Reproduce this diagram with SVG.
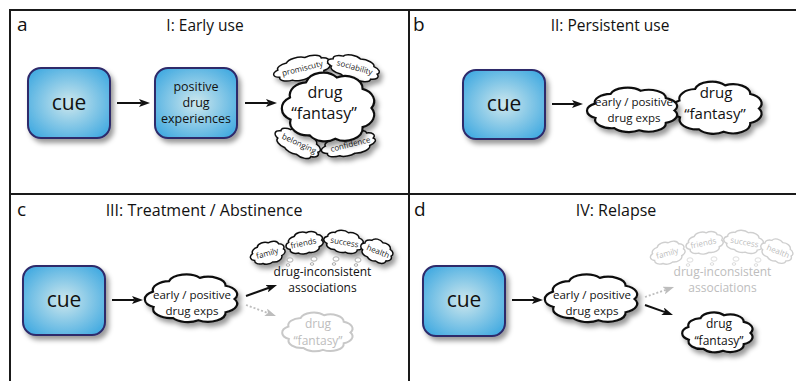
<svg xmlns="http://www.w3.org/2000/svg" width="796" height="381" viewBox="0 0 796 381">
<defs>
<style>
text{font-family:"Open Sans","Liberation Sans",sans-serif;fill:#111;text-anchor:middle}
.lbl{font-size:19px;text-anchor:start}
.ttl{font-size:15.5px}
.cue{font-size:21px}
.sm{font-size:8px;fill:#222}
.gt{fill:#bdbdbd}
.di{font-size:12px}
.cl{fill:#fff;stroke:#111;stroke-width:2.2}
.cs{fill:#fff;stroke:#111;stroke-width:1.5}
.cg{fill:#fff;stroke:#c8c8c8;stroke-width:2}
.csg{fill:#fff;stroke:#cfcfcf;stroke-width:1.4}
.box{fill:url(#boxg);stroke:#2d2a6b;stroke-width:2}
.bub{fill:#fff;stroke:#999;stroke-width:0.8}
.bubg{fill:#fff;stroke:#d4d4d4;stroke-width:0.8}
.frame{stroke:#1a1a1a;stroke-width:2;fill:none}
.ar{stroke:#111;stroke-width:2;fill:none;marker-end:url(#ah)}
.ag{stroke:#bdbdbd;stroke-width:1.8;fill:none;stroke-dasharray:2 2;marker-end:url(#ahg)}
</style>
<radialGradient id="boxg" cx="50%" cy="50%" r="62%">
<stop offset="0" stop-color="#cde7ed"/>
<stop offset="1" stop-color="#44abe1"/>
</radialGradient>
<filter id="sh" x="-20%" y="-20%" width="150%" height="160%">
<feDropShadow dx="3" dy="4" stdDeviation="2.5" flood-color="#000" flood-opacity="0.4"/>
</filter>
<path id="cloud" vector-effect="non-scaling-stroke" d="M1,0 A.42,.42 0 0 1 .788,.616 A.42,.42 0 0 1 .139,.99 A.42,.42 0 0 1 -.469,.883 A.42,.42 0 0 1 -.927,.375 A.42,.42 0 0 1 -.94,-.342 A.42,.42 0 0 1 -.559,-.829 A.42,.42 0 0 1 .174,-.985 A.42,.42 0 0 1 .788,-.616 A.42,.42 0 0 1 1,0 Z"/>
<marker id="ah" markerUnits="userSpaceOnUse" markerWidth="11" markerHeight="8" viewBox="0 0 11 8" refX="2.5" refY="4" orient="auto"><path d="M0,0 L11,4 L0,8 L2.5,4 Z" fill="#111"/></marker>
<marker id="ahg" markerUnits="userSpaceOnUse" markerWidth="11" markerHeight="8" viewBox="0 0 11 8" refX="2.5" refY="4" orient="auto"><path d="M0,0 L11,4 L0,8 L2.5,4 Z" fill="#bdbdbd"/></marker>
</defs>

<g id="frame">
<line class="frame" x1="9" y1="10" x2="796" y2="10"/>
<line class="frame" x1="10" y1="10" x2="10" y2="381"/>
<line class="frame" x1="409" y1="10" x2="409" y2="381"/>
<line class="frame" x1="10" y1="194" x2="796" y2="194"/>
</g>

<g id="labels">
<text class="lbl" x="17" y="31">a</text>
<text class="ttl" x="205" y="31">I: Early use</text>
<text class="lbl" x="413" y="31">b</text>
<text class="ttl" x="610" y="31">II: Persistent use</text>
<text class="lbl" x="17" y="216">c</text>
<text class="ttl" x="204" y="216" style="font-size:16px">III: Treatment / Abstinence</text>
<text class="lbl" x="414" y="216">d</text>
<text class="ttl" x="616" y="216" style="font-size:16px">IV: Relapse</text>
</g>

<!-- Panel a -->
<g id="a-cue">
<rect class="box" x="28" y="68" width="82" height="70" rx="13" filter="url(#sh)"/>
<text class="cue" x="69" y="110">cue</text>
</g>
<g id="a-positive">
<rect class="box" x="155" y="68" width="82" height="70" rx="13" filter="url(#sh)"/>
<text x="196" y="91" style="font-size:12.5px">positive</text>
<text x="196" y="107" style="font-size:12.5px">drug</text>
<text x="196" y="123" style="font-size:12.5px">experiences</text>
</g>
<g id="a-promiscuty">
<g filter="url(#sh)"><use href="#cloud" class="cs" transform="translate(302.5,68.5) rotate(-12) scale(26,10.5)"/></g>
<text class="sm" transform="translate(303,71) rotate(-14)">promiscuty</text>
</g>
<g id="a-sociability">
<g filter="url(#sh)"><use href="#cloud" class="cs" transform="translate(354,68) rotate(15) scale(24,10.5)"/></g>
<text class="sm" transform="translate(354,70) rotate(16)">sociability</text>
</g>
<g id="a-belonging">
<g filter="url(#sh)"><use href="#cloud" class="cs" transform="translate(298,143) rotate(25) scale(22,11)"/></g>
<text class="sm" transform="translate(298,146) rotate(25)">belonging</text>
</g>
<g id="a-confidence">
<g filter="url(#sh)"><use href="#cloud" class="cs" transform="translate(349,144) rotate(-14) scale(25,10.5)"/></g>
<text class="sm" transform="translate(351,147) rotate(-14)">confidence</text>
</g>
<g id="a-fantasy">
<g filter="url(#sh)"><use href="#cloud" class="cl" transform="translate(329.5,108) scale(42,31)"/></g>
<text x="325" y="98" style="font-size:16px">drug</text>
<text x="324" y="119" style="font-size:16px">“fantasy”</text>
</g>

<!-- Panel b -->
<g id="b-cue">
<rect class="box" x="463" y="70" width="82" height="69" rx="13" filter="url(#sh)"/>
<text class="cue" x="504" y="111">cue</text>
</g>
<g id="b-fantasy">
<g filter="url(#sh)"><use href="#cloud" class="cl" transform="translate(718,108.5) scale(41,23.5)"/></g>
<text x="716" y="98" style="font-size:15px">drug</text>
<text x="715" y="119" style="font-size:15px">“fantasy”</text>
</g>
<g id="b-exps">
<g filter="url(#sh)"><use href="#cloud" class="cl" transform="translate(633.5,110.5) scale(41,20)"/></g>
<text x="634" y="106" style="font-size:11.5px">early / positive</text>
<text x="634" y="122" style="font-size:11.5px">drug exps</text>
</g>

<!-- Panel c -->
<g id="c-cue">
<rect class="box" x="23" y="266" width="82" height="69" rx="13" filter="url(#sh)"/>
<text class="cue" x="64" y="307">cue</text>
</g>
<g id="c-exps">
<g filter="url(#sh)"><use href="#cloud" class="cl" transform="translate(192.5,299) scale(42,21.5)"/></g>
<text x="192" y="299" style="font-size:11.5px">early / positive</text>
<text x="192" y="315" style="font-size:11.5px">drug exps</text>
</g>
<g id="c-family">
<g filter="url(#sh)"><use href="#cloud" class="cs" transform="translate(268,253) rotate(-15) scale(16,10)"/></g>
<text class="sm" transform="translate(268,256) rotate(-15)">family</text>
</g>
<g id="c-friends">
<g filter="url(#sh)"><use href="#cloud" class="cs" transform="translate(305,243) rotate(-10) scale(17,10)"/></g>
<text class="sm" transform="translate(304,246) rotate(-12)">friends</text>
</g>
<g id="c-success">
<g filter="url(#sh)"><use href="#cloud" class="cs" transform="translate(344,242) rotate(8) scale(18,10)"/></g>
<text class="sm" transform="translate(344,245) rotate(10)">success</text>
</g>
<g id="c-health">
<g filter="url(#sh)"><use href="#cloud" class="cs" transform="translate(377,251) rotate(20) scale(15,10)"/></g>
<text class="sm" transform="translate(377,254) rotate(22)">health</text>
</g>
<g id="c-inconsistent">
<ellipse class="bub" cx="290" cy="260" rx="3" ry="2.2"/><ellipse class="bub" cx="288" cy="265" rx="1.8" ry="1.3"/>
<ellipse class="bub" cx="314" cy="259" rx="3" ry="2.2"/><ellipse class="bub" cx="312" cy="264" rx="1.8" ry="1.3"/>
<ellipse class="bub" cx="336" cy="259" rx="3" ry="2.2"/><ellipse class="bub" cx="334" cy="264" rx="1.8" ry="1.3"/>
<ellipse class="bub" cx="358" cy="260" rx="3" ry="2.2"/><ellipse class="bub" cx="356" cy="265" rx="1.8" ry="1.3"/>
<text class="di" x="322.5" y="276">drug-inconsistent</text>
<text class="di" x="322.5" y="292">associations</text>
</g>
<g id="c-fantasy">
<use href="#cloud" class="cg" transform="translate(318.5,332.5) scale(32,17.5)"/>
<text class="gt" x="318" y="328" style="font-size:12px">drug</text>
<text class="gt" x="318" y="345" style="font-size:12px">“fantasy”</text>
</g>

<!-- Panel d -->
<g id="d-cue">
<rect class="box" x="423" y="266" width="82" height="70" rx="13" filter="url(#sh)"/>
<text class="cue" x="464" y="307">cue</text>
</g>
<g id="d-exps">
<g filter="url(#sh)"><use href="#cloud" class="cl" transform="translate(592.5,299) scale(42,21.5)"/></g>
<text x="592" y="299" style="font-size:11.5px">early / positive</text>
<text x="592" y="315" style="font-size:11.5px">drug exps</text>
</g>
<g id="d-family">
<use href="#cloud" class="csg" transform="translate(668,253) rotate(-15) scale(16,10)"/>
<text class="sm gt" transform="translate(668,256) rotate(-15)">family</text>
</g>
<g id="d-friends">
<use href="#cloud" class="csg" transform="translate(705,243) rotate(-10) scale(17,10)"/>
<text class="sm gt" transform="translate(704,246) rotate(-12)">friends</text>
</g>
<g id="d-success">
<use href="#cloud" class="csg" transform="translate(744,242) rotate(8) scale(18,10)"/>
<text class="sm gt" transform="translate(744,245) rotate(10)">success</text>
</g>
<g id="d-health">
<use href="#cloud" class="csg" transform="translate(777,251) rotate(20) scale(15,10)"/>
<text class="sm gt" transform="translate(777,254) rotate(22)">health</text>
</g>
<g id="d-inconsistent">
<ellipse class="bubg" cx="690" cy="260" rx="3" ry="2.2"/><ellipse class="bubg" cx="688" cy="265" rx="1.8" ry="1.3"/>
<ellipse class="bubg" cx="714" cy="259" rx="3" ry="2.2"/><ellipse class="bubg" cx="712" cy="264" rx="1.8" ry="1.3"/>
<ellipse class="bubg" cx="736" cy="259" rx="3" ry="2.2"/><ellipse class="bubg" cx="734" cy="264" rx="1.8" ry="1.3"/>
<ellipse class="bubg" cx="758" cy="260" rx="3" ry="2.2"/><ellipse class="bubg" cx="756" cy="265" rx="1.8" ry="1.3"/>
<text class="di gt" x="722.5" y="276">drug-inconsistent</text>
<text class="di gt" x="722.5" y="292">associations</text>
</g>
<g id="d-fantasy">
<g filter="url(#sh)"><use href="#cloud" class="cl" transform="translate(718.5,333) scale(32,18)"/></g>
<text x="719" y="328" style="font-size:12px">drug</text>
<text x="719" y="345" style="font-size:12px">“fantasy”</text>
</g>

<g id="connectors">
<line class="ar" x1="117" y1="103" x2="141.5" y2="103"/>
<line class="ar" x1="245" y1="103" x2="268.5" y2="103"/>
<line class="ar" x1="552" y1="104" x2="574.5" y2="104"/>
<line class="ar" x1="112" y1="300" x2="134.5" y2="300"/>
<line class="ar" x1="246" y1="296" x2="269" y2="287.8"/>
<line class="ag" x1="246" y1="305" x2="268" y2="313.1"/>
<line class="ar" x1="512" y1="300" x2="534.5" y2="300"/>
<line class="ag" x1="645" y1="297" x2="666" y2="289.8"/>
<line class="ar" x1="645" y1="305" x2="665" y2="312.1"/>
</g>
</svg>
